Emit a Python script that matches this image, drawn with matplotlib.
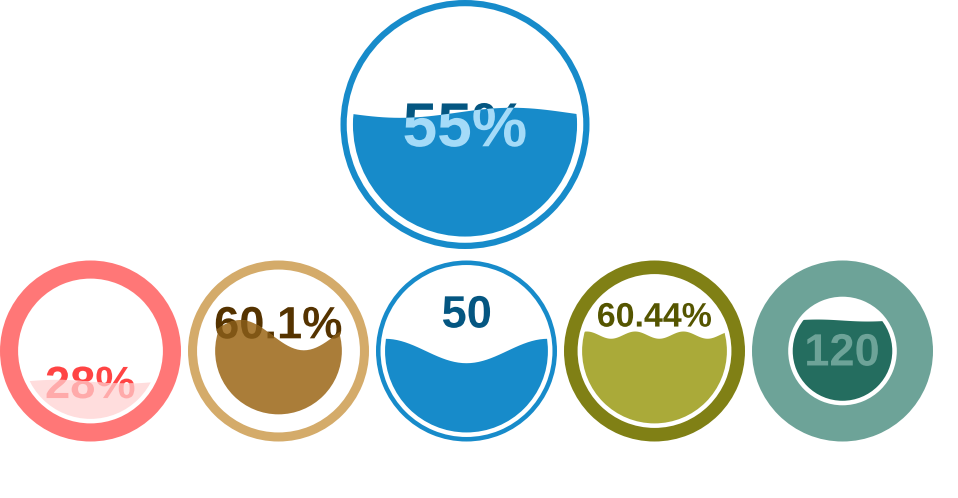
import numpy as np
import matplotlib.pyplot as plt
from matplotlib.patches import Circle, Wedge, Polygon, PathPatch
from matplotlib.textpath import TextPath
from matplotlib.font_manager import FontProperties
from matplotlib.transforms import Affine2D

# gauge data
values = [55, 28, 60.1, 50, 60.44, 120]
min_values = [0, 0, 0, 0, 0, 30]
max_values = [100, 100, 100, 100, 100, 150]
show_percent = [True, True, True, False, True, False]

# gauge styles (liquid fill gauge settings)
circle_colors = ["#178BCA", "#FF7777", "#D4AB6A", "#178BCA", "#808015", "#6DA398"]
wave_colors = ["#178BCA", "#FFDDDD", "#AA7D39", "#178BCA", "#AAAA39", "#246D5F"]
text_colors = ["#045681", "#FF4444", "#553300", "#045681", "#555500", "#0E5144"]
wave_text_colors = ["#A4DBF8", "#FFAAAA", "#805615", "#A4DBF8", "#FFFFAA", "#6DA398"]
circle_thickness = [0.05, 0.2, 0.1, 0.05, 0.15, 0.4]
fill_gap = [0.05, 0.05, 0.2, 0.05, 0.05, 0.05]
wave_height = [0.05, 0.05, 0.3, 0.15, 0.05, 0.05]
height_scaling = [True, True, True, True, False, True]
wave_count = [1, 1, 1, 1, 3, 1]
wave_offset = [0, 0, 0, 0.25, 0.25, 0]
text_vert = [0.5, 0.2, 0.8, 0.8, 0.8, 0.52]
text_size = [1, 1, 1, 1, 0.75, 1]
wave_phase = [0.96, 0.5, 0.45, 0.0, 0.1, 0.5]  # animation snapshot

# layout in pixels
centers = [(465, 124.5), (90.5, 351), (278.5, 351), (466.5, 351), (654.5, 351), (842.5, 351)]
radii = [124.5, 90.5, 90.5, 90.5, 90.5, 90.5]

DPI = 100
FONT = FontProperties(family=["Liberation Sans", "DejaVu Sans"], weight="bold")


def text_patch(label, x, y, size, color):
    # text as a path so it can be clipped by the wave
    tp = TextPath((0, 0), label, size=size, prop=FONT)
    ext = tp.get_extents()
    tr = Affine2D().translate(-(ext.x0 + ext.x1) / 2, 0).scale(1, -1).translate(x, y)
    return PathPatch(tr.transform_path(tp), facecolor=color, edgecolor="none", lw=0)


def draw_gauge(ax, i):
    cx, cy = centers[i]
    radius = radii[i]
    left, top = cx - radius, cy - radius

    fill_pct = max(min_values[i], min(max_values[i], values[i])) / max_values[i]
    if height_scaling[i]:
        wh_scale = wave_height[i] * (1 - abs(fill_pct * 100 - 50) / 50)
    else:
        wh_scale = wave_height[i]

    text_px = text_size[i] * radius / 2
    thick = circle_thickness[i] * radius
    margin = thick + fill_gap[i] * radius
    fill_r = radius - margin
    wh = fill_r * wh_scale
    wave_len = fill_r * 2 / wave_count[i]
    clip_count = 1 + wave_count[i]
    clip_w = wave_len * clip_count

    # outer ring
    ax.add_patch(Wedge((cx, cy), radius, 0, 360, width=thick,
                       facecolor=circle_colors[i], edgecolor="none"))

    label = f"{values[i]:g}" + ("%" if show_percent[i] else "")
    ty = top + (margin + 2 * fill_r) - text_vert[i] * (2 * fill_r - 0.7 * text_px)
    ax.add_patch(text_patch(label, cx, ty, text_px, text_colors[i]))

    # wave clip area
    n = 40 * clip_count
    k = np.arange(n + 1)
    xs = clip_w * k / n
    ys = wh * np.sin(-2 * np.pi * wave_offset[i] + 2 * np.pi * (1 - wave_count[i])
                     + (k / 40) * 2 * np.pi)
    gx = left + margin + 2 * fill_r - clip_w + wave_phase[i] * wave_len
    gy = top + (margin + 2 * fill_r + wh) - fill_pct * (2 * fill_r + 2 * wh)
    bottom = 2 * fill_r + wh
    px = np.concatenate([xs, [xs[-1], xs[0]]]) + gx
    py = np.concatenate([ys, [bottom, bottom]]) + gy
    clip = Polygon(np.column_stack([px, py]), closed=True, transform=ax.transData)

    fill = Circle((cx, cy), fill_r, facecolor=wave_colors[i], edgecolor="none")
    ax.add_patch(fill)
    fill.set_clip_path(clip)

    t2 = text_patch(label, cx, ty, text_px, wave_text_colors[i])
    ax.add_patch(t2)
    t2.set_clip_path(clip)


fig = plt.figure(figsize=(9.58, 4.98), dpi=DPI)
ax = fig.add_axes([0, 0, 1, 1])
ax.set_xlim(0, 958)
ax.set_ylim(498, 0)
ax.set_aspect("equal")
ax.axis("off")

for i in range(len(values)):
    draw_gauge(ax, i)

fig.savefig("out.png", dpi=DPI, facecolor="white")
